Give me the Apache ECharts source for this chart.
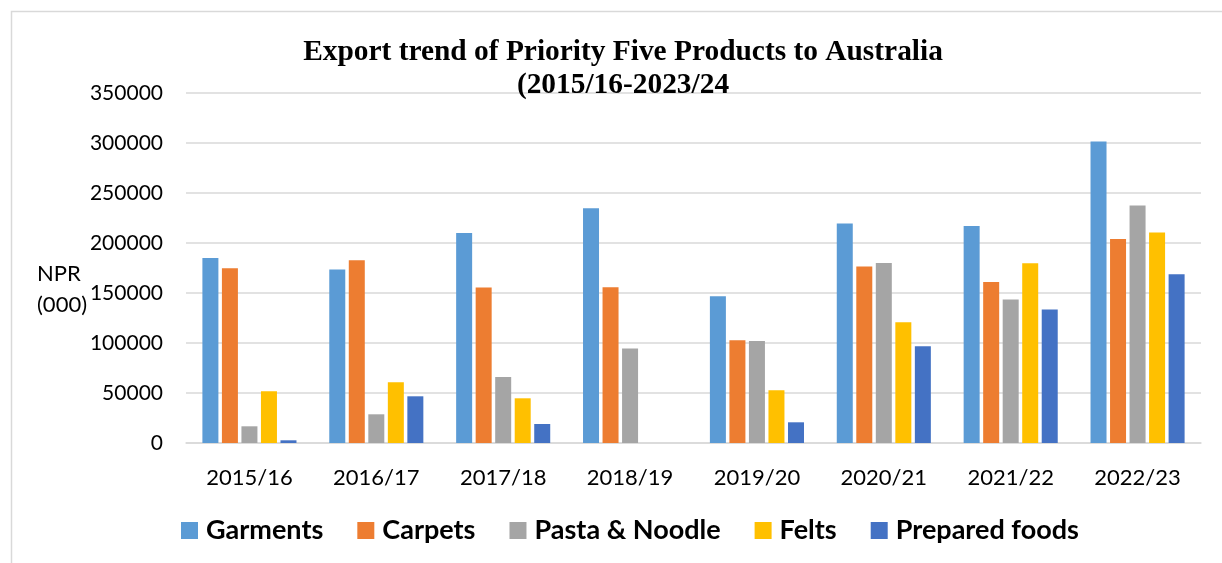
<!DOCTYPE html>
<html>
<head>
<meta charset="utf-8">
<script src="https://cdn.jsdelivr.net/npm/echarts@6/dist/echarts.min.js"></script>
<style>
  html, body { margin: 0; padding: 0; background: #fff; }
  #chart { width: 1222px; height: 563px; }
</style>
</head>
<body>
<div id="chart"></div>
<script>
// Fiscal years on the x axis
const years = ['2015/16', '2016/17', '2017/18', '2018/19', '2019/20', '2020/21', '2021/22', '2022/23'];

// Export values, NPR thousands
const garments      = [185000, 173400, 210000, 234700, 146700, 219400, 217000, 301400];
const carpets       = [174700, 182700, 155400, 155700, 102700, 176400, 161000, 204000];
const pastaNoodle   = [16700, 28700, 66000, 94400, 102000, 180000, 143400, 237400];
const felts         = [51700, 60700, 44700, 0, 52700, 120700, 179700, 210400];
const preparedFoods = [2700, 46700, 19000, 0, 20700, 96700, 133400, 168700];

const seriesNames = ['Garments', 'Carpets', 'Pasta & Noodle', 'Felts', 'Prepared foods'];
const seriesData = [garments, carpets, pastaNoodle, felts, preparedFoods];
const colors = ['#5B9BD5', '#ED7D31', '#A5A5A5', '#FFC000', '#4472C4'];

const yTicks = { min: 0, max: 350000, interval: 50000 };

const chart = echarts.init(document.getElementById('chart'), null, { renderer: 'canvas' });

chart.setOption({
  backgroundColor: '#fff',
  animation: false,
  color: colors,
  title: {
    text: 'Export trend of Priority Five Products to Australia\n(2015/16-2023/24',
    left: 618,
    top: 31,
    textAlign: 'center',
    textStyle: {
      fontFamily: '"Liberation Serif", "Times New Roman", serif',
      fontWeight: 'bold',
      fontSize: 29.4,
      lineHeight: 33,
      color: '#000'
    }
  },
  legend: {
    data: seriesNames,
    left: 176,
    top: 512,
    itemWidth: 17,
    itemHeight: 17,
    itemGap: 34,
    icon: 'rect',
    textStyle: {
      fontFamily: 'Lato, "Open Sans", sans-serif',
      fontWeight: 'bold',
      fontSize: 27,
      color: '#000',
      padding: [0, 0, 0, 3]
    }
  },
  grid: {
    left: 186,
    right: 21,
    top: 93,
    bottom: 120,
    containLabel: false
  },
  xAxis: {
    type: 'category',
    data: years,
    axisLine: { show: true, lineStyle: { color: '#d9d9d9', width: 1.5 } },
    axisTick: { show: false },
    axisLabel: {
      color: '#000',
      fontFamily: 'Lato, "Open Sans", sans-serif',
      fontSize: 22,
      margin: 24
    }
  },
  yAxis: {
    type: 'value',
    min: yTicks.min,
    max: yTicks.max,
    interval: yTicks.interval,
    axisLine: { show: false },
    axisTick: { show: false },
    splitLine: { lineStyle: { color: '#d9d9d9', width: 1.5 } },
    axisLabel: {
      color: '#000',
      fontFamily: 'Lato, "Open Sans", sans-serif',
      fontSize: 21,
      margin: 23,
      formatter: v => String(v)
    }
  },
  graphic: [
    {
      type: 'rect',
      shape: { x: 11.5, y: 11.5, width: 1230, height: 570 },
      style: { fill: 'none', stroke: '#d9d9d9', lineWidth: 1.5 },
      silent: true
    },
    {
      type: 'text',
      left: 37,
      top: 258,
      style: {
        text: 'NPR\n(000)',
        fontFamily: 'Lato, "Open Sans", sans-serif',
        fontSize: 22,
        lineHeight: 31,
        fill: '#000'
      }
    }
  ],
  series: seriesNames.map((name, i) => ({
    name: name,
    type: 'bar',
    data: seriesData[i],
    barWidth: 16,
    barGap: '22%',
    itemStyle: { color: colors[i] }
  }))
});
</script>
</body>
</html>
